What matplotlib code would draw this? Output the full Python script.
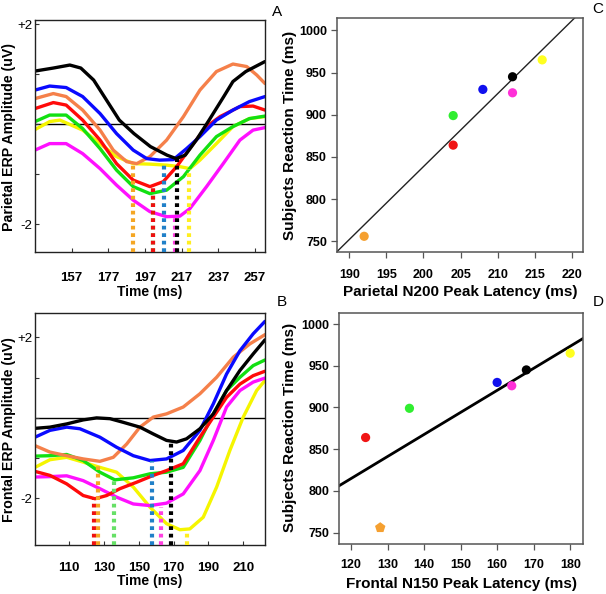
import numpy as np
import matplotlib
matplotlib.use("Agg")
import matplotlib.pyplot as plt

plt.rcParams['font.family'] = ['Liberation Sans', 'DejaVu Sans']

# ---------------- data ----------------
groups = ["black", "blue", "orange", "red", "green", "yellow", "magenta"]
curve_colors = {"black": "#000000", "blue": "#0a0aff", "orange": "#f5804a", "red": "#ff0a0a",
                "green": "#12e012", "yellow": "#f5f500", "magenta": "#ff10ff"}
dot_colors = {"black": "#000000", "blue": "#2080c8", "orange": "#f5a623", "red": "#ee1010",
              "green": "#66e066", "yellow": "#ffee20", "magenta": "#ff40e0"}
scatter_colors = {"black": "#000000", "blue": "#1010ee", "orange": "#f5a030", "red": "#f01515",
                  "green": "#30ee30", "yellow": "#ffff20", "magenta": "#ff30d8"}

# Panel A: parietal ERP waveforms (time ms, amplitude uV)
A_t = {
    "black":   [137, 147, 156, 162, 169, 176, 183, 191, 200, 209, 214, 219, 225, 232, 240, 245, 252, 262.5],
    "blue":    [137, 145, 154, 163, 172.5, 181.5, 190.6, 198, 205, 212.5, 219.7, 227, 236, 245, 254, 262.5],
    "orange":  [137, 147, 154, 163, 172.5, 179.7, 187, 192.5, 199.7, 208.8, 218, 227, 236, 245, 252.5, 258, 262.5],
    "red":     [137, 147, 154, 163, 172.5, 181.5, 190.6, 199.7, 207, 214.3, 223.4, 230.6, 238, 248.8, 256, 262.5],
    "green":   [137, 145, 154, 163, 172.5, 181.5, 190.6, 199.7, 208.8, 218, 227, 236, 245, 254, 262.5],
    "yellow":  [137, 145, 150.6, 163, 172.5, 181.5, 190.6, 199.7, 208.8, 216, 221.5, 227, 236, 245, 254, 262.5],
    "magenta": [137, 145, 154, 163, 172.5, 181.5, 190.6, 199.7, 208.8, 216, 221.5, 230.6, 239.7, 248.8, 256, 262.5],
}
A_v = {
    "black":   [1.06, 1.12, 1.18, 1.12, 0.88, 0.48, 0.08, -0.19, -0.45, -0.62, -0.69, -0.62, -0.32, 0.08, 0.55, 0.85, 1.05, 1.25],
    "blue":    [0.68, 0.76, 0.73, 0.55, 0.21, -0.19, -0.52, -0.69, -0.72, -0.71, -0.49, -0.25, 0.08, 0.28, 0.45, 0.55],
    "orange":  [0.51, 0.61, 0.55, 0.28, -0.12, -0.52, -0.75, -0.79, -0.65, -0.32, 0.15, 0.68, 1.05, 1.20, 1.15, 0.98, 0.81],
    "red":     [0.31, 0.43, 0.38, 0.08, -0.32, -0.79, -1.12, -1.25, -1.15, -0.85, -0.39, -0.05, 0.15, 0.35, 0.36, 0.28],
    "green":   [0.05, 0.18, 0.18, -0.09, -0.49, -0.92, -1.25, -1.39, -1.32, -1.05, -0.62, -0.25, -0.05, 0.11, 0.16],
    "yellow":  [-0.11, 0.05, 0.08, -0.12, -0.39, -0.65, -0.79, -0.80, -0.82, -0.85, -0.89, -0.72, -0.39, -0.05, 0.11, 0.15],
    "magenta": [-0.52, -0.39, -0.39, -0.59, -0.89, -1.22, -1.52, -1.75, -1.85, -1.84, -1.69, -1.25, -0.79, -0.32, -0.12, -0.07],
}
# Panel A peak markers (latency ms, peak amplitude uV)
A_peak_t = {"green": 201.2, "orange": 190.3, "red": 201.2, "blue": 207.4, "magenta": 213.4, "black": 214.6, "yellow": 221.2}
A_peak_v = {"green": -1.3, "orange": -0.79, "red": -1.25, "blue": -0.79, "magenta": -1.85, "black": -0.69, "yellow": -0.89}

# Panel B: frontal ERP waveforms
B_t = {
    "black":   [90.3, 98.9, 108.5, 118, 125.7, 133.4, 141, 150.6, 158.3, 165.9, 171.7, 177.4, 185.1, 192.8, 200.4, 208.1, 215.7, 222.5],
    "blue":    [90.3, 98.9, 108.5, 116.1, 127.6, 137.2, 146.8, 156.4, 165.9, 175.5, 185.1, 192.8, 200.4, 208.1, 215.7, 222.5],
    "orange":  [90.3, 98.9, 108.5, 118, 127.6, 135.3, 143, 150.6, 158.3, 165.9, 175.5, 185.1, 194.7, 204.3, 213.8, 222.5],
    "green":   [90.3, 98.9, 108.5, 118, 127.6, 136.2, 146.8, 156.4, 165.9, 175.5, 185.1, 192.8, 200.4, 208.1, 215.7, 222.5],
    "red":     [90.3, 98.9, 108.5, 118, 124.8, 131.5, 139.1, 148.7, 158.3, 165.9, 175.5, 185.1, 192.8, 200.4, 208.1, 215.7, 222.5],
    "yellow":  [90.3, 98.9, 108.5, 118, 127.6, 137.2, 146.8, 156.4, 165.9, 173.6, 179.3, 187, 194.7, 202.3, 210, 217.7, 222.5],
    "magenta": [90.3, 98.9, 108.5, 118, 127.6, 137.2, 146.8, 156.4, 165.9, 175.5, 185.1, 192.8, 200.4, 208.1, 215.7, 222.5],
}
B_v = {
    "black":   [-0.26, -0.23, -0.15, -0.05, 0.0, -0.02, -0.11, -0.23, -0.40, -0.56, -0.60, -0.52, -0.27, 0.10, 0.68, 1.18, 1.59, 1.94],
    "blue":    [-0.48, -0.31, -0.23, -0.27, -0.48, -0.73, -0.94, -1.06, -1.02, -0.81, -0.31, 0.35, 1.09, 1.67, 2.09, 2.40],
    "orange":  [-0.69, -0.85, -0.94, -1.02, -1.08, -0.98, -0.65, -0.23, 0.02, 0.10, 0.27, 0.60, 1.01, 1.51, 1.84, 2.07],
    "green":   [-0.95, -0.94, -0.91, -1.06, -1.35, -1.54, -1.49, -1.39, -1.35, -1.23, -0.56, 0.10, 0.68, 1.01, 1.30, 1.44],
    "red":     [-1.33, -1.43, -1.64, -1.93, -2.01, -1.93, -1.76, -1.60, -1.43, -1.31, -1.14, -0.48, 0.02, 0.51, 0.84, 1.05, 1.16],
    "yellow":  [-1.23, -1.04, -0.98, -1.10, -1.23, -1.35, -1.72, -2.22, -2.63, -2.78, -2.76, -2.47, -1.72, -0.81, 0.02, 0.68, 0.93],
    "magenta": [-1.47, -1.46, -1.44, -1.56, -1.76, -1.97, -2.14, -2.18, -2.12, -1.89, -1.31, -0.56, 0.27, 0.68, 0.89, 0.99],
}
B_peak_t = {"red": 124.2, "orange": 126.3, "green": 135.9, "blue": 157.3, "magenta": 162.7, "black": 168.4, "yellow": 177.4}
B_peak_v = {"red": -2.01, "orange": -1.18, "green": -1.55, "blue": -1.06, "magenta": -2.22, "black": -0.60, "yellow": -2.84}

# Panels C, D: reaction time vs latency
rt = {"orange": 756, "red": 864, "green": 899, "blue": 930, "black": 945, "magenta": 926, "yellow": 965}
parietal_lat = {"orange": 192, "red": 204, "green": 204, "blue": 208, "black": 212, "magenta": 212, "yellow": 216}
frontal_lat = {"orange": 128, "red": 124, "green": 136, "blue": 160, "black": 168, "magenta": 164, "yellow": 180}

# ---------------- figure ----------------
W, H = 606, 594
fig = plt.figure(figsize=(W / 100, H / 100), dpi=100)

def rect(l, t, r, b):
    return [l / W, 1 - b / H, (r - l) / W, (b - t) / H]

axA = fig.add_axes(rect(35, 20, 265, 251.7))
axB = fig.add_axes(rect(35, 313.3, 265, 545))
axC = fig.add_axes(rect(336.7, 18, 583, 252))
axD = fig.add_axes(rect(339.3, 313, 583, 544))

def erp_panel(ax, T, V, PT, PV, xlim, ylim, xticks, dot_order, xpad, xlab_y):
    ax.set_xlim(*xlim)
    ax.set_ylim(*ylim)
    ax.axhline(0, color="black", lw=1.0, zorder=1)
    for g in ["yellow", "magenta", "green", "red", "orange", "blue", "black"]:
        ax.plot(T[g], V[g], color=curve_colors[g], lw=2.4, solid_capstyle="round",
                solid_joinstyle="round", zorder=2)
    for g in dot_order:
        ax.plot([PT[g], PT[g]], [ylim[0], PV[g]], color=dot_colors[g], lw=3.0,
                linestyle=(0, (0.9, 0.9)), dash_capstyle="butt", zorder=3)
    ax.set_xticks(xticks)
    ax.set_xticklabels([str(x) for x in xticks], fontsize=9.5, fontweight="bold")
    ax.set_yticks([-2, -1, 0, 1, 2])
    ax.set_yticklabels(["-2", "", "", "", "+2"], fontsize=9.5)
    ax.tick_params(direction="in", length=3, width=0.8, pad=2, color="#333333")
    ax.tick_params(axis="x", pad=xpad)
    for s in ax.spines.values():
        s.set_color("#222222")
        s.set_linewidth(1.0)
    ax.set_xlabel("Time (ms)", fontsize=10, fontweight="bold")
    ax.xaxis.set_label_coords(0.5, xlab_y)

erp_panel(axA, A_t, A_v, A_peak_t, A_peak_v, (137, 262.5), (-2.55, 2.08),
          [157, 177, 197, 217, 237, 257],
          ["green", "orange", "red", "blue", "magenta", "black", "yellow"], 14.5, -0.142)
erp_panel(axB, B_t, B_v, B_peak_t, B_peak_v, (90.3, 222.5), (-3.16, 2.6),
          [110, 130, 150, 170, 190, 210],
          ["red", "orange", "green", "blue", "magenta", "black", "yellow"], 12.5, -0.127)

fig.text(9 / W, 1 - 137 / H, "Parietal ERP Amplitude (uV)", rotation=90, ha="center",
         va="center", fontsize=10.2, fontweight="bold")
fig.text(9 / W, 1 - 430 / H, "Frontal ERP Amplitude (uV)", rotation=90, ha="center",
         va="center", fontsize=10.2, fontweight="bold")

def scatter_panel(ax, lat, xlim, ylim, xticks, xlabel, line_w, line_c, orange_marker, xpad, xlab_y):
    ax.set_xlim(*xlim)
    ax.set_ylim(*ylim)
    xs = np.array([lat[g] for g in groups], dtype=float)
    ys = np.array([rt[g] for g in groups], dtype=float)
    k, b0 = np.polyfit(xs, ys, 1)
    lx = np.array(xlim)
    ax.plot(lx, k * lx + b0, color=line_c, lw=line_w, zorder=2)
    for g in groups:
        m = orange_marker if g == "orange" else "o"
        ax.scatter([lat[g]], [rt[g]], s=44 if m == "o" else 62, marker=m,
                   color=scatter_colors[g], edgecolors="none", zorder=3)
    ax.set_xticks(xticks)
    ax.set_xticklabels([str(x) for x in xticks], fontsize=9, fontweight="bold")
    yt = [750, 800, 850, 900, 950, 1000]
    ax.set_yticks(yt)
    ax.set_yticklabels([str(y) for y in yt], fontsize=9, fontweight="bold")
    ax.tick_params(direction="out", length=4, width=0.9, pad=3, color="#555555")
    ax.tick_params(axis="x", pad=xpad)
    for s in ax.spines.values():
        s.set_color("#555555")
        s.set_linewidth(1.1)
    ax.set_xlabel(xlabel, fontsize=11, fontweight="bold")
    ax.xaxis.set_label_coords(0.5, xlab_y)

scatter_panel(axC, parietal_lat, (188.3, 221.5), (737.4, 1014.6),
              [190, 195, 200, 205, 210, 215, 220], "Parietal N200 Peak Latency (ms)",
              1.0, "#222222", "o", 8.5, -0.14)
scatter_panel(axD, frontal_lat, (116.8, 183.5), (736.4, 1013.2),
              [120, 130, 140, 150, 160, 170, 180], "Frontal N150 Peak Latency (ms)",
              2.0, "#000000", "p", 7.0, -0.142)

# right-panel y labels placed in the gap
fig.text(290 / W, 1 - 135 / H, "Subjects Reaction Time (ms)", rotation=90, ha="center",
         va="center", fontsize=11, fontweight="bold")
fig.text(290 / W, 1 - 427 / H, "Subjects Reaction Time (ms)", rotation=90, ha="center",
         va="center", fontsize=11, fontweight="bold")

# panel letters
for lab, x, y in [("A", 277, 12), ("C", 598, 9), ("B", 282, 302), ("D", 598, 302)]:
    fig.text(x / W, 1 - y / H, lab, ha="center", va="center", fontsize=11)

fig.savefig("out.png", dpi=100)
